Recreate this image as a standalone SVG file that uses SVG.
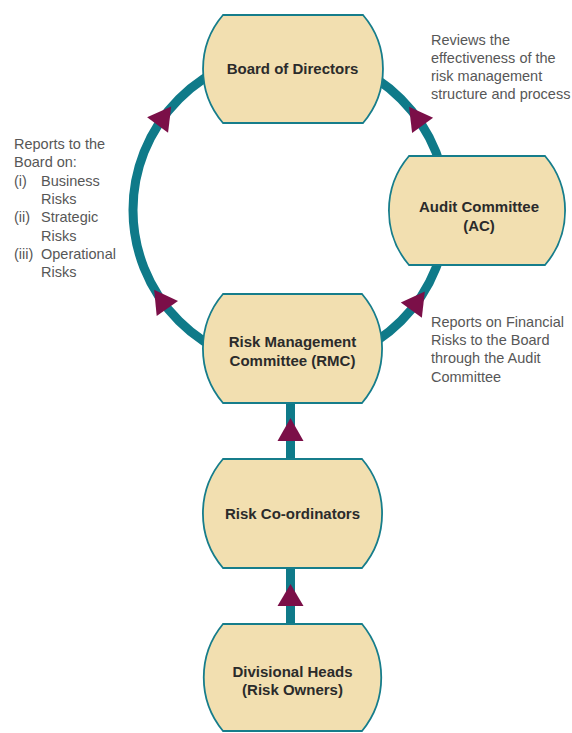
<svg xmlns="http://www.w3.org/2000/svg" width="572" height="733" viewBox="0 0 572 733">
<style>
.node{fill:#f2dfb0;stroke:#167d8b;stroke-width:1.8}
.lbl{font-family:"Liberation Sans",Arial,sans-serif;font-weight:bold;font-size:15px;fill:#2b2b2b;text-anchor:middle}
.note{font-family:"Liberation Sans",Arial,sans-serif;font-size:14.5px;fill:#575757}
.ring{fill:none;stroke:#0f7a89;stroke-width:9}
.head{fill:#7b0f48}
</style>
<defs>
<polygon id="ah" points="13,0 -10,-13 -10,13"/>
</defs>
<g id="connectors">
<circle class="ring" cx="290" cy="210" r="157"/>
<line class="ring" x1="290.5" y1="400" x2="290.5" y2="462"/>
<line class="ring" x1="290.5" y1="565" x2="290.5" y2="627"/>
</g>
<g id="board">
<path class="node" d="M223 15H363A83 83 0 0 1 363 123H223A83 83 0 0 1 223 15Z"/>
<text class="lbl" x="292.5" y="74">Board of Directors</text>
</g>
<g id="ac">
<path class="node" d="M409 156H545A84 84 0 0 1 545 265H409A84 84 0 0 1 409 156Z"/>
<text class="lbl" x="479" y="212">Audit Committee</text>
<text class="lbl" x="479" y="230.5">(AC)</text>
</g>
<g id="rmc">
<path class="node" d="M223 294H362A84 84 0 0 1 362 403H223A84 84 0 0 1 223 294Z"/>
<text class="lbl" x="292.5" y="347">Risk Management</text>
<text class="lbl" x="292.5" y="365.5">Committee (RMC)</text>
</g>
<g id="rc">
<path class="node" d="M223 459H362A84 84 0 0 1 362 568H223A84 84 0 0 1 223 459Z"/>
<text class="lbl" x="292.5" y="518.5">Risk Co-ordinators</text>
</g>
<g id="dh">
<path class="node" d="M223 624H362A84 84 0 0 1 362 731H223A84 84 0 0 1 223 624Z"/>
<text class="lbl" x="292.5" y="676.5">Divisional Heads</text>
<text class="lbl" x="292.5" y="695">(Risk Owners)</text>
</g>
<g id="arrowheads">
<use href="#ah" class="head" transform="translate(163.5 117) rotate(306.3)"/>
<use href="#ah" class="head" transform="translate(416.7 117.3) rotate(233.8)"/>
<use href="#ah" class="head" transform="translate(161.6 300.3) rotate(234.9)"/>
<use href="#ah" class="head" transform="translate(417.2 302) rotate(305.9)"/>
<polygon class="head" points="290.5,418 277.5,441 303.5,441"/>
<polygon class="head" points="290.5,584 277.5,606 303.5,606"/>
</g>
<g id="notes">
<text class="note" x="431" y="45">Reviews the</text>
<text class="note" x="431" y="63">effectiveness of the</text>
<text class="note" x="431" y="81">risk management</text>
<text class="note" x="431" y="99">structure and process</text>
<text class="note" x="14" y="149">Reports to the</text>
<text class="note" x="14" y="167">Board on:</text>
<text class="note" x="14" y="185.5">(i)</text>
<text class="note" x="41" y="185.5">Business</text>
<text class="note" x="41" y="204">Risks</text>
<text class="note" x="14" y="222">(ii)</text>
<text class="note" x="41" y="222">Strategic</text>
<text class="note" x="41" y="240.5">Risks</text>
<text class="note" x="14" y="259">(iii)</text>
<text class="note" x="41" y="259">Operational</text>
<text class="note" x="41" y="277">Risks</text>
<text class="note" x="431" y="327">Reports on Financial</text>
<text class="note" x="431" y="345">Risks to the Board</text>
<text class="note" x="431" y="363">through the Audit</text>
<text class="note" x="431" y="381.5">Committee</text>
</g>
</svg>
